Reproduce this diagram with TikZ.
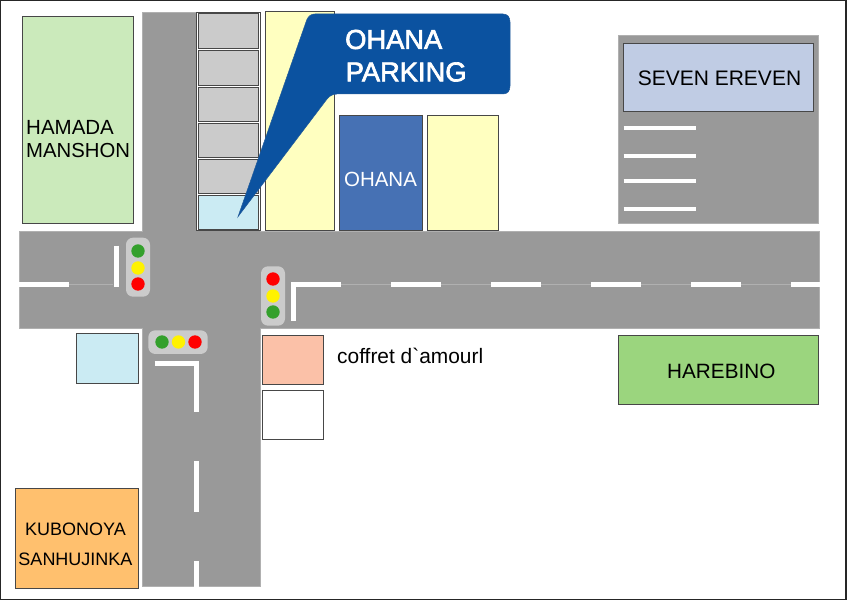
\documentclass[tikz,border=0pt]{standalone}
\usepackage{fontspec}
\setmainfont{Liberation Sans}
\newfontfamily\calloutfont[FakeBold=2.5]{Liberation Sans}
\usetikzlibrary{calc}
\definecolor{roadgray}{HTML}{999999}
\definecolor{roadedge}{HTML}{B0B0B0}
\definecolor{cellgray}{HTML}{CBCBCB}
\definecolor{palegreen}{HTML}{CBEABB}
\definecolor{paleblue}{HTML}{CBEBF3}
\definecolor{paleyellow}{HTML}{FFFFC0}
\definecolor{shopblue}{HTML}{4671B4}
\definecolor{calloutblue}{HTML}{0B52A0}
\definecolor{sevenblue}{HTML}{C0CCE4}
\definecolor{salmon}{HTML}{FBC1A8}
\definecolor{harebinogreen}{HTML}{9BD57E}
\definecolor{kubonoyaorange}{HTML}{FFC06E}
\definecolor{lampgreen}{HTML}{34A02C}
\tikzset{
	building/.style={draw=black!72,line width=0.9pt},
	road/.style={fill=roadgray,draw=roadedge,line width=0.7pt},
	whiteline/.style={draw=white,line width=#1,line cap=butt},
	whiteline/.default=5pt,
	housing/.style={fill=cellgray,rounded corners=7pt},
	lamp/.style={circle,inner sep=0pt,minimum size=13.4pt},
	label/.style={text=black,font=\fontsize{#1}{#1}\selectfont,inner sep=0pt},
	label/.default=20.5
}
\def\fsize#1{\fontsize{#1}{#1}\selectfont}
\begin{document}
\begin{tikzpicture}[x=1pt,y=-1pt]
	\useasboundingbox (0,0) rectangle (849,601);
	\fill[white] (0,0) rectangle (849,601);
	\draw[black!85,line width=1.5pt] (0.7,0.7) rectangle (846,599.5);
	
	%ROADS
	\draw[road] (142.8,12.8) rectangle (260.7,586.7);
	\draw[road] (19.3,231.8) rectangle (819.7,328.7);
	\fill[roadgray] (143,225) rectangle (260.4,335);
	\draw[road] (618.3,35.8) rectangle (818.7,223.2);
	
	%CENTRE LINE
	\draw[roadedge,line width=0.6pt] (19,284.3)--(113,284.3);
	\draw[roadedge,line width=0.6pt] (341,284.3)--(819.5,284.3);
	\draw[whiteline] (19,284.3)--(69,284.3);
	\foreach \xstart/\xend in {391/441,491/541,591/641,691/741,791/820}
		\draw[whiteline] (\xstart,284.3)--(\xend,284.3);
	\draw[whiteline] (116,245.7)--(116,287);
	\draw[whiteline] (293.3,321)--(293.3,284.3)--(341,284.3);
	\draw[whiteline] (154.7,363.5)--(196.7,363.5)--(196.7,411.7);
	\draw[whiteline] (196.7,461.3)--(196.7,511.7);
	\draw[whiteline] (196.7,561.3)--(196.7,587);
	%PARKING LINES
	\foreach \ypos in {128,156,181,209}
		\draw[whiteline=3.5pt] (623.5,\ypos)--(695.5,\ypos);
	
	%BUILDINGS
	\draw[building,fill=palegreen] (22.2,16.2) rectangle (133.6,223.6);
	\node[label=20.5,anchor=west] (hamada) at (26,127.5) {HAMADA};
	\node[label=20.3,anchor=west] (manshon) at (26,151) {MANSHON};
	%
	\draw[building,fill=white] (196.7,12.7) rectangle (260.6,230.6);
	\foreach \ytop/\ybot in {13.5/48,50/85.5,87/121.5,123/157.5,159/193.5}
		\draw[building,fill=cellgray] (198.7,\ytop) rectangle (258.7,\ybot);
	\draw[building,fill=paleblue] (198.7,195) rectangle (258.7,229.5);
	%
	\draw[building,fill=paleyellow] (265.2,11.7) rectangle (334.1,230.6);
	\draw[building,fill=shopblue] (339.5,115.2) rectangle (422.3,230.6);
	\node[label=20.5,text=white] (ohana) at (380.5,179.5) {OHANA};
	\draw[building,fill=paleyellow] (427.2,115.2) rectangle (498.6,230.6);
	%
	\draw[building,fill=sevenblue] (623.2,43.2) rectangle (813.6,111.6);
	\node[label=21] (seven) at (719.5,78.5) {SEVEN EREVEN};
	%
	\draw[building,fill=paleblue] (76.5,333.9) rectangle (138.3,383.6);
	\draw[building,fill=salmon] (262.5,335.2) rectangle (323.9,384.6);
	\draw[building,fill=white] (262.5,390.2) rectangle (323.9,439.6);
	\node[label=20.9,anchor=west] (coffret) at (337,356) {coffret d\textasciigrave amourl};
	%
	\draw[building,fill=harebinogreen] (618.7,335.7) rectangle (818.1,404.6);
	\node[label=20.7] (harebino) at (721.3,371) {HAREBINO};
	%
	\draw[building,fill=kubonoyaorange] (15.2,488.7) rectangle (138.1,588.1);
	\node[label=18] (kubonoya) at (75.5,529) {KUBONOYA};
	\node[label=18] (sanhujinka) at (75.5,559) {SANHUJINKA};
	
	%TRAFFIC LIGHTS
	\fill[housing] (126,237.7) rectangle (150,296.7);
	\foreach \ypos/\col in {251/lampgreen,268/yellow,284/red}
		\node[lamp,fill=\col] at (138,\ypos) {};
	\fill[housing] (261,266.3) rectangle (285,325.7);
	\foreach \ypos/\col in {279/red,296/yellow,312/lampgreen}
		\node[lamp,fill=\col] at (273,\ypos) {};
	\fill[housing] (148.3,330.3) rectangle (207.7,354);
	\foreach \xpos/\col in {162/lampgreen,178.5/yellow,195/red}
		\node[lamp,fill=\col] at (\xpos,342) {};
	
	%CALLOUT
	\draw[calloutblue!80!gray,fill=calloutblue,line width=0.5pt] (238,216.7)--(306.7,20)
		.. controls (308.5,16) and (311,14) .. (315,14)--(503,14)
		.. controls (507.5,14) and (510,17) .. (510,22)--(510,86)
		.. controls (510,91) and (507.5,94) .. (503,94)--(337,94)
		.. controls (331,94) and (328,97.5) .. (325,101.7)--cycle;
	\node[inner sep=0pt,anchor=west,text=white,font=\calloutfont\fsize{27.3}] (callouttop) at (345,39.5) {OHANA};
	\node[inner sep=0pt,anchor=west,text=white,font=\calloutfont\fsize{27.3}] (calloutbot) at (345.5,72) {PARKING};
\end{tikzpicture}
\end{document}
